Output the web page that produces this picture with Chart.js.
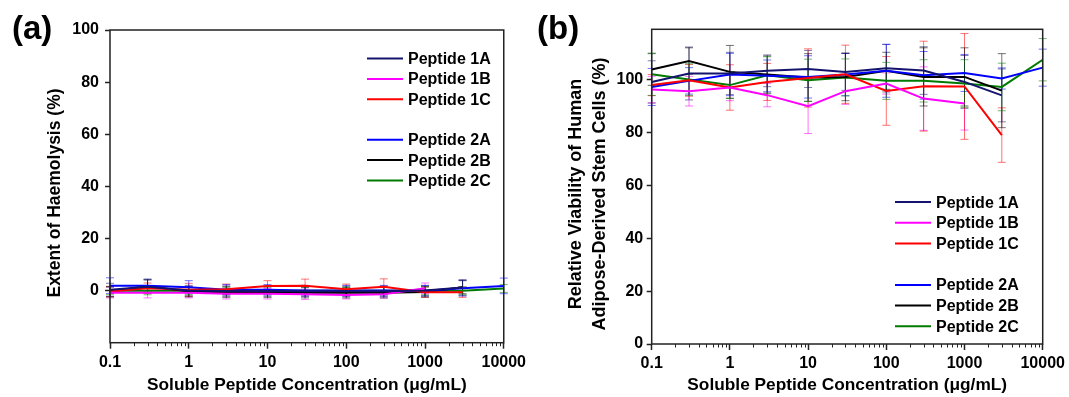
<!DOCTYPE html>
<html>
<head>
<meta charset="utf-8">
<script src="https://cdn.jsdelivr.net/npm/chart.js@4/dist/chart.umd.min.js"></script>
<style>
body { margin: 0; background: #fff; width: 1069px; height: 397px; overflow: hidden; position: relative; }
.panel { position: absolute; top: 0; height: 397px; }
#panelA { left: 0; width: 530px; }
#panelB { left: 530px; width: 539px; }
</style>
</head>
<body>
<div class="panel" id="panelA"><canvas id="chartA" width="530" height="397"></canvas></div>
<div class="panel" id="panelB"><canvas id="chartB" width="539" height="397"></canvas></div>
<script>
let concentrations = [0.1, 0.3, 1, 3, 10, 30, 100, 300, 1000, 3000, 10000];
let xTickLabels = ['0.1', '1', '10', '100', '1000', '10000'];
let yTickValues = [0, 20, 40, 60, 80, 100];
let seriesNames = ['Peptide 1A', 'Peptide 1B', 'Peptide 1C', 'Peptide 2A', 'Peptide 2B', 'Peptide 2C'];
let seriesColors = ['#14146e', '#ff00ff', '#ff0000', '#0000ff', '#000000', '#007a00'];

// (a) extent of haemolysis, %
let haem1A = [0.3, 1.5, 0, -0.2, -0.2, -0.3, -0.3, -0.3, 0, 1.2];
let haem1B = [-0.8, -0.8, -0.8, -1.2, -1.2, -1.4, -1.7, -1.4, 0.9];
let haem1C = [-0.4, 0.9, 0.3, 0.5, 1.8, 1.9, 0.5, 1.5, -0.6, -0.6];
let haem2A = [1.9, 1.9, 1.3, 0.3, 0.3, 0, 0, 0, -0.1, 0.9, 1.8];
let haem2B = [-0.4, 1.8, -0.4, -0.6, -0.6, -0.8, -0.8, -0.8, -0.5, 1.3];
let haem2C = [-0.1, -0.1, -0.1, -0.1, -0.1, -0.1, -0.1, -0.1, -0.1, -0.1, 0.8];

let haemErr1A = [2.5, 2.5, 2, 2, 2, 2, 2, 2, 2, 3];
let haemErr1B = [2, 2, 2, 2, 2, 2, 1.5, 1.5, 2];
let haemErr1C = [2, 2, 2.5, 2, 2, 2.5, 2, 3, 2, 2];
let haemErr2A = [3, 2.5, 2.5, 2, 2, 2, 2, 2, 2, 3, 3];
let haemErr2B = [2, 2.5, 2, 2, 2, 2, 2, 2, 2, 2.5];
let haemErr2C = [1.5, 1.5, 1.5, 1.5, 1.5, 1.5, 1.5, 1.5, 1.5, 1.5, 1.5];

// (b) relative viability of hADSCs, %
let viab1A = [99.1, 102.3, 102.3, 103.3, 104.0, 102.9, 104.3, 103.4, 99.1, 94.0];
let viab1B = [96.2, 95.6, 97.0, 94.1, 89.9, 95.6, 98.5, 92.8, 90.9];
let viab1C = [97.9, 99.7, 97.0, 99.1, 100.6, 102.0, 95.7, 97.5, 97.4, 79.0];
let viab2A = [97.2, 99.5, 101.9, 101.4, 101.0, 101.9, 103.3, 101.6, 102.5, 100.4, 104.5];
let viab2B = [103.8, 107.0, 102.9, 101.9, 100.8, 101.0, 103.3, 101.0, 101.0, 95.8];
let viab2C = [102.0, 100.0, 97.9, 101.6, 99.7, 100.8, 99.5, 99.5, 98.5, 97.2, 107.5];

let viabErr1A = [8, 10, 8, 6, 7, 7, 9, 9, 10, 10];
let viabErr1B = [5, 5.6, 5, 4.4, 10.3, 5, 4, 12, 10];
let viabErr1C = [4, 6, 8.6, 7, 11, 11, 13, 17, 20, 10.3];
let viabErr2A = [7, 5, 8, 6, 8, 8, 10, 9, 7, 4, 7];
let viabErr2B = [6, 5, 10, 7, 9, 9, 7, 11, 11, 14];
let viabErr2C = [8, 6, 5, 7, 8, 7, 7, 8, 9, 9, 8];

let fontName = "'Liberation Sans', Arial, sans-serif";

function makeDatasets(valueLists, errorLists) {
    return valueLists.map((vals, i) => ({
        label: seriesNames[i],
        data: vals.map((v, j) => ({ x: concentrations[j], y: v })),
        errors: errorLists[i],
        borderColor: seriesColors[i],
        borderWidth: 2,
        pointRadius: 0,
        tension: 0,
        fill: false
    }));
}

// error bars drawn behind the lines
let errorBars = {
    id: 'errorBars',
    beforeDatasetsDraw(chart) {
        let ctx = chart.ctx;
        let xs = chart.scales.x, ys = chart.scales.y;
        chart.data.datasets.forEach(ds => {
            ctx.save();
            ctx.strokeStyle = ds.borderColor;
            ctx.globalAlpha = 0.55;
            ctx.lineWidth = 1;
            ds.data.forEach((p, j) => {
                let e = ds.errors[j];
                let x = xs.getPixelForValue(p.x);
                let top = ys.getPixelForValue(p.y + e);
                let bot = ys.getPixelForValue(p.y - e);
                ctx.beginPath();
                ctx.moveTo(x, top); ctx.lineTo(x, bot);
                ctx.moveTo(x - 4, top); ctx.lineTo(x + 4, top);
                ctx.moveTo(x - 4, bot); ctx.lineTo(x + 4, bot);
                ctx.stroke();
            });
            ctx.restore();
        });
    }
};

// frame, minor ticks, y title, legend and panel letter
let decor = {
    id: 'decor',
    afterDraw(chart, args, opts) {
        let ctx = chart.ctx;
        let a = chart.chartArea;
        ctx.save();
        ctx.strokeStyle = '#222';
        ctx.lineWidth = 1.5;
        ctx.strokeRect(a.left, a.top, a.right - a.left, a.bottom - a.top);

        ctx.lineWidth = 1;
        chart.scales.x.ticks.forEach(t => {
            if (xTickLabels.includes(String(t.value))) return;
            let x = Math.round(chart.scales.x.getPixelForValue(t.value)) + 0.5;
            ctx.beginPath();
            ctx.moveTo(x, a.bottom);
            ctx.lineTo(x, a.bottom + 3.5);
            ctx.stroke();
        });

        // rotated y axis title
        ctx.fillStyle = '#000';
        ctx.textAlign = 'center';
        ctx.textBaseline = 'middle';
        ctx.font = 'bold ' + opts.yTitleSize + 'px ' + fontName;
        opts.yTitle.forEach((line, i) => {
            ctx.save();
            ctx.translate(opts.yTitleX + i * opts.yTitleGap, opts.yTitleY);
            ctx.rotate(-Math.PI / 2);
            ctx.fillText(line, 0, 0);
            ctx.restore();
        });

        ctx.font = 'bold 16px ' + fontName;
        ctx.textAlign = 'left';
        let rows = [0, 1, 2, 4, 5, 6];
        chart.data.datasets.forEach((ds, i) => {
            let y = opts.legendTop + rows[i] * opts.rowGap;
            ctx.strokeStyle = ds.borderColor;
            ctx.lineWidth = 2;
            ctx.beginPath();
            ctx.moveTo(opts.legendLeft, y);
            ctx.lineTo(opts.legendLeft + 36, y);
            ctx.stroke();
            ctx.fillText(ds.label, opts.legendLeft + 41, y + 1);
        });

        ctx.font = 'bold 33px ' + fontName;
        ctx.fillText(opts.panelLabel, opts.labelX, 30);
        ctx.restore();
    }
};

function xScale() {
    return {
        type: 'logarithmic',
        min: 0.1,
        max: 10000,
        afterBuildTicks: scale => {
            let vals = [];
            let decades = xTickLabels.map(Number);
            decades.slice(0, -1).forEach(d => {
                for (let m = 1; m < 10; m++) vals.push(parseFloat((m * d).toPrecision(6)));
            });
            vals.push(decades[decades.length - 1]);
            scale.ticks = vals.map(v => ({ value: v }));
        },
        ticks: {
            autoSkip: false,
            maxRotation: 0,
            padding: 4,
            color: '#000',
            font: { family: fontName, size: 16, weight: 'bold' },
            callback: v => xTickLabels.includes(String(v)) ? String(v) : ''
        },
        grid: {
            drawOnChartArea: false,
            tickLength: 6,
            tickWidth: 1.5,
            tickColor: c => (c.tick && xTickLabels.includes(String(c.tick.value))) ? '#222' : 'rgba(0,0,0,0)'
        },
        border: { display: false },
        title: {
            display: true,
            text: 'Soluble Peptide Concentration (\u03bcg/mL)',
            color: '#000',
            font: { family: fontName, size: 17.3, weight: 'bold' },
            padding: { top: 0, bottom: 1.6 }
        }
    };
}

function yScale(min, max, tickPad) {
    return {
        type: 'linear',
        min: min,
        max: max,
        afterBuildTicks: scale => { scale.ticks = yTickValues.map(v => ({ value: v })); },
        ticks: {
            padding: tickPad,
            color: '#000',
            font: { family: fontName, size: 16, weight: 'bold' }
        },
        grid: { drawOnChartArea: false, tickLength: 5, tickWidth: 1.5, tickColor: '#222' },
        border: { display: false }
    };
}

function makeChart(canvasId, datasets, cfg) {
    let x = xScale();
    x.afterFit = s => { s.height = cfg.xHeight; };
    let y = yScale(cfg.yMin, cfg.yMax, cfg.tickPad);
    y.afterFit = s => { s.width = cfg.yWidth; };
    return new Chart(document.getElementById(canvasId), {
        type: 'line',
        data: { datasets: datasets },
        options: {
            responsive: false,
            animation: false,
            devicePixelRatio: 1,
            layout: { padding: { top: cfg.padTop, right: cfg.padRight, left: 0, bottom: 0 } },
            scales: { x: x, y: y },
            plugins: {
                legend: { display: false },
                tooltip: { enabled: false },
                decor: cfg.decor
            }
        },
        plugins: [errorBars, decor]
    });
}

makeChart('chartA',
    makeDatasets([haem1A, haem1B, haem1C, haem2A, haem2B, haem2C],
                 [haemErr1A, haemErr1B, haemErr1C, haemErr2A, haemErr2B, haemErr2C]),
    {
        yMin: -20, yMax: 100, tickPad: 6,
        yWidth: 110, xHeight: 54.3, padTop: 30, padRight: 24,
        decor: {
            panelLabel: '(a)', labelX: 12, legendLeft: 367, legendTop: 58.6, rowGap: 20.3,
            yTitle: ['Extent of Haemolysis (%)'], yTitleSize: 17.5, yTitleX: 55, yTitleY: 193, yTitleGap: 0
        }
    });

makeChart('chartB',
    makeDatasets([viab1A, viab1B, viab1C, viab2A, viab2B, viab2C],
                 [viabErr1A, viabErr1B, viabErr1C, viabErr2A, viabErr2B, viabErr2C]),
    {
        yMin: 0, yMax: 119, tickPad: 3.5,
        yWidth: 121.7, xHeight: 53, padTop: 29.3, padRight: 26.3,
        decor: {
            panelLabel: '(b)', labelX: 7, legendLeft: 365, legendTop: 202.1, rowGap: 20.7,
            yTitle: ['Relative Viability of Human', 'Adipose-Derived Stem Cells (%)'],
            yTitleSize: 18, yTitleX: 46, yTitleY: 194, yTitleGap: 24
        }
    });
</script>
</body>
</html>
